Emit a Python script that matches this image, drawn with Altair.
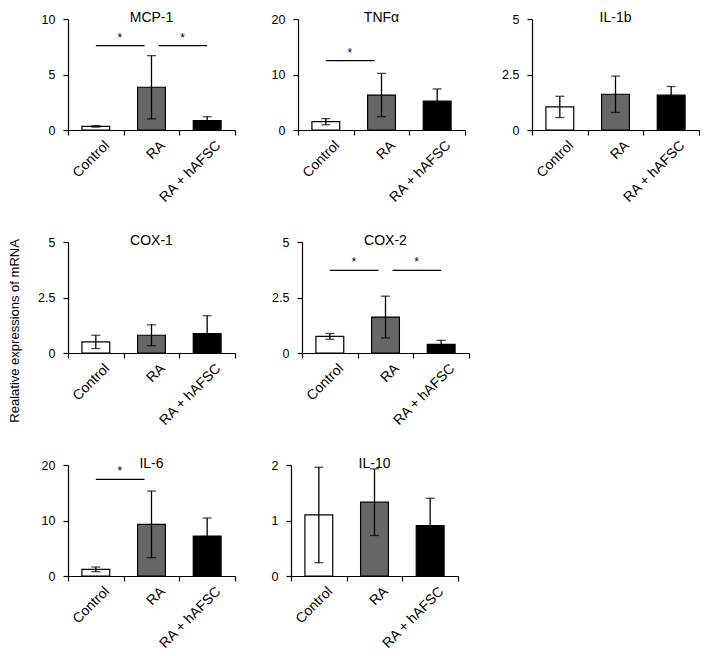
import altair as alt
import pandas as pd

groups = ["Control", "RA", "RA + hAFSC"]
colors = ["#ffffff", "#666666", "#000000"]

panel_names = ["MCP-1", "TNFα", "IL-1b", "COX-1", "COX-2", "IL-6", "IL-10"]

means = {
    "MCP-1": [0.33, 3.85, 0.85],
    "TNFα": [1.5, 6.3, 5.2],
    "IL-1b": [1.04, 1.61, 1.57],
    "COX-1": [0.5, 0.8, 0.87],
    "COX-2": [0.75, 1.62, 0.39],
    "IL-6": [1.2, 9.3, 7.2],
    "IL-10": [1.10, 1.33, 0.91],
}
errs = {
    "MCP-1": [0.07, 2.85, 0.35],
    "TNFα": [0.55, 3.9, 2.2],
    "IL-1b": [0.48, 0.82, 0.39],
    "COX-1": [0.3, 0.47, 0.81],
    "COX-2": [0.13, 0.94, 0.18],
    "IL-6": [0.42, 6.0, 3.25],
    "IL-10": [0.86, 0.6, 0.49],
}
y_ticks = {
    "MCP-1": [0, 5, 10],
    "TNFα": [0, 10, 20],
    "IL-1b": [0, 2.5, 5],
    "COX-1": [0, 2.5, 5],
    "COX-2": [0, 2.5, 5],
    "IL-6": [0, 10, 20],
    "IL-10": [0, 1, 2],
}
# significance brackets: (from group, to group, height)
sig_from = {"MCP-1": ["Control", "RA"], "TNFα": ["Control"], "COX-2": ["Control", "RA"], "IL-6": ["Control"]}
sig_to = {"MCP-1": ["RA", "RA + hAFSC"], "TNFα": ["RA"], "COX-2": ["RA", "RA + hAFSC"], "IL-6": ["RA"]}
sig_y = {"MCP-1": [7.6, 7.6], "TNFα": [12.5], "COX-2": [3.72, 3.72], "IL-6": [17.4]}

FONT = "Liberation Sans"
W, H = 167, 111


def panel(name):
    df = pd.DataFrame({"group": groups, "mean": means[name], "err": errs[name]})
    df["lo"] = df["mean"] - df["err"]
    df["hi"] = df["mean"] + df["err"]
    ymax = y_ticks[name][-1]
    xenc = alt.X(
        "group:N", sort=groups, title=None,
        scale=alt.Scale(domain=groups, paddingInner=0, paddingOuter=0),
        axis=alt.Axis(labelAngle=-45, ticks=True, tickBand="extent", labelFont=FONT, labelFontSize=14,
                      labelColor="black", domainColor="black", tickColor="black",
                      tickSize=5, domainWidth=1.2, tickWidth=1.2, labelPadding=3, labelOffset=6),
    )
    yscale = alt.Scale(domain=[0, ymax], nice=False)
    yaxis = alt.Axis(values=y_ticks[name], format=".2~f", title=None, grid=False,
                     labelFont=FONT, labelFontSize=12.5, labelColor="black",
                     domainColor="black", tickColor="black", tickSize=5,
                     domainWidth=1.2, tickWidth=1.2, labelPadding=8)
    base = alt.Chart(df)
    bars = base.mark_bar(stroke="black", strokeWidth=1.2, width=alt.RelativeBandSize(0.5)).encode(
        x=xenc,
        y=alt.Y("mean:Q", scale=yscale, axis=yaxis),
        color=alt.Color("group:N", scale=alt.Scale(domain=groups, range=colors), legend=None),
    )
    rule = base.mark_rule(color="black", strokeWidth=1.3).encode(
        x=alt.X("group:N", sort=groups), y="lo:Q", y2="hi:Q")
    cap_lo = base.mark_tick(color="black", thickness=1.3, size=9).encode(
        x=alt.X("group:N", sort=groups), y="lo:Q")
    cap_hi = base.mark_tick(color="black", thickness=1.3, size=9).encode(
        x=alt.X("group:N", sort=groups), y="hi:Q")
    layers = [bars, rule, cap_lo, cap_hi]
    if name in sig_from:
        sdf = pd.DataFrame({"a": sig_from[name], "b": sig_to[name], "yv": sig_y[name]})
        sbase = alt.Chart(sdf)
        left = sbase.transform_filter(alt.datum.b == "RA")
        right = sbase.transform_filter(alt.datum.a == "RA")
        layers += [
            left.mark_rule(color="black", strokeWidth=1.2, x2Offset=-7).encode(
                x=alt.X("a:N", sort=groups), x2="b:N", y="yv:Q"),
            right.mark_rule(color="black", strokeWidth=1.2, xOffset=7).encode(
                x=alt.X("a:N", sort=groups), x2="b:N", y="yv:Q"),
            left.mark_text(text="*", font=FONT, fontSize=12, xOffset=24, dy=-8, color="black").encode(
                x=alt.X("a:N", sort=groups), y="yv:Q"),
            right.mark_text(text="*", font=FONT, fontSize=12, xOffset=31, dy=-8, color="black").encode(
                x=alt.X("a:N", sort=groups), y="yv:Q"),
        ]
    return alt.layer(*layers).properties(
        width=W, height=H,
        title=alt.TitleParams(name, font=FONT, fontSize=14, fontWeight="normal",
                              color="black", offset=-12, anchor="middle"),
    )


row1 = alt.hconcat(panel("MCP-1"), panel("TNFα"), panel("IL-1b"), spacing=35)
row2 = alt.hconcat(panel("COX-1"), panel("COX-2"), spacing=35)
row3 = alt.hconcat(panel("IL-6"), panel("IL-10"), spacing=35)

chart = alt.vconcat(row1, row2, row3, spacing=29).properties(
    title=alt.TitleParams("Realative expressions of mRNA", orient="left", anchor="middle",
                          font=FONT, fontSize=13, fontWeight="normal", color="black", offset=16),
    padding={"left": 0, "top": 3, "right": 0, "bottom": 0},
).configure_view(stroke=None)

chart.save("out.html", embed_options={"renderer": "svg", "actions": False})
